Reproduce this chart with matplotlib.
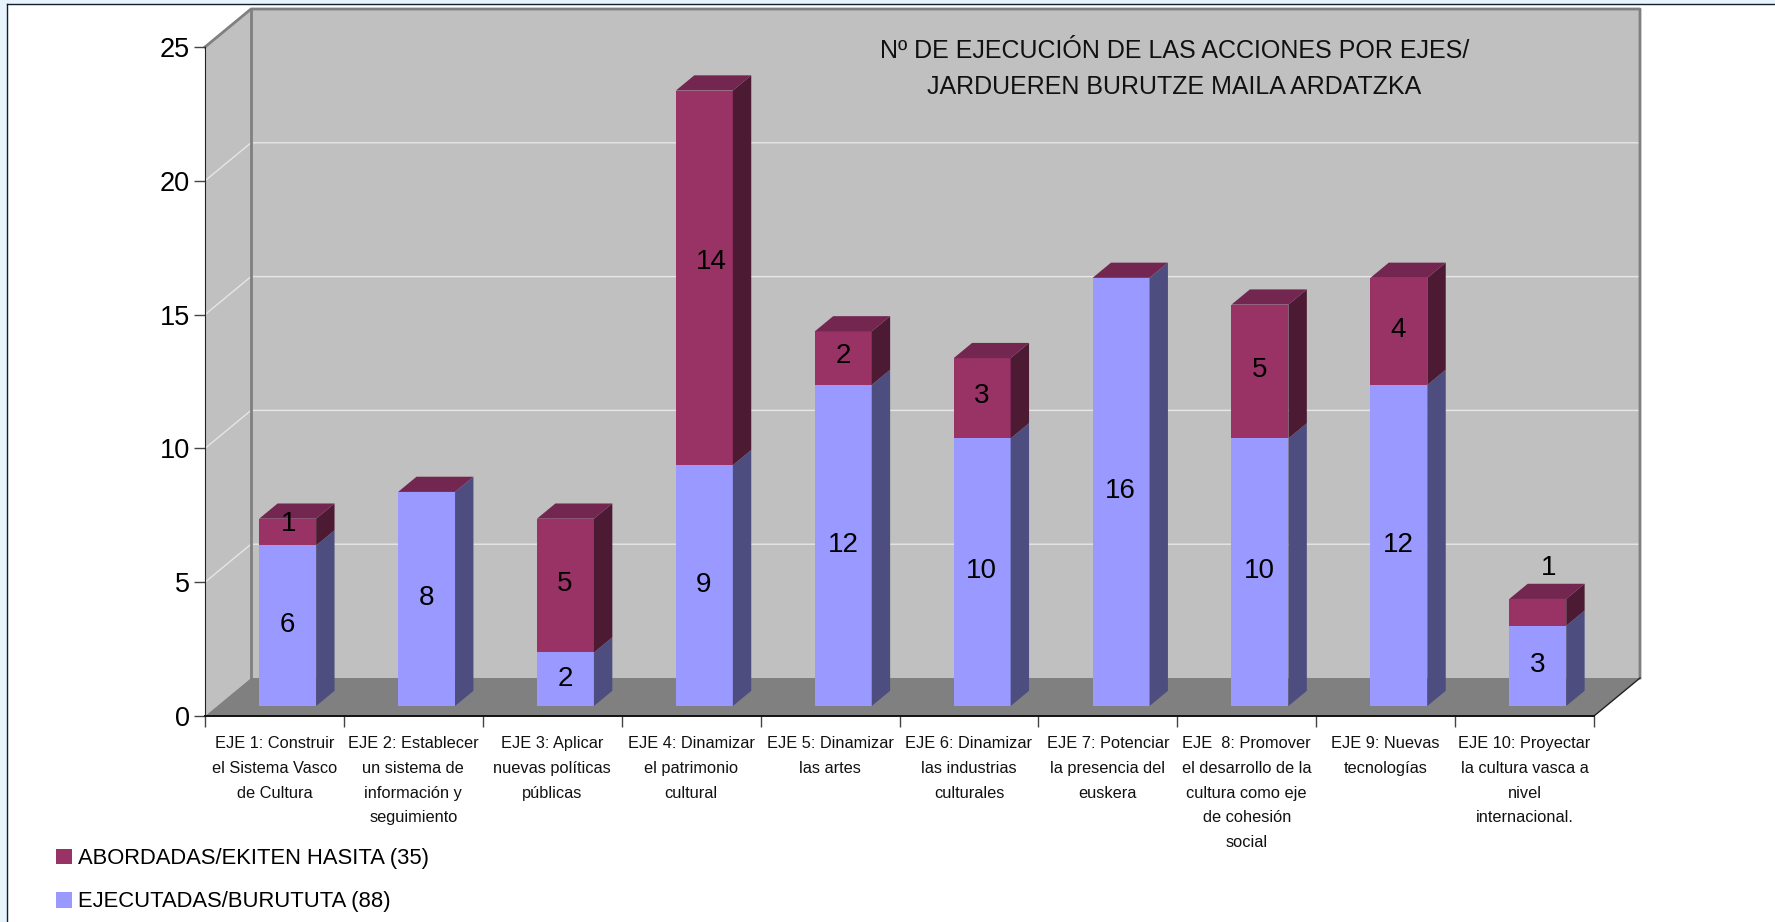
import numpy as np
import matplotlib
matplotlib.use("Agg")
import matplotlib.pyplot as plt
from matplotlib.lines import Line2D
from matplotlib.patches import Patch, Polygon, Rectangle

plt.rcParams['font.family'] = ['Liberation Sans', 'DejaVu Sans']

categories = [
    "EJE 1: Construir\nel Sistema Vasco\nde Cultura",
    "EJE 2: Establecer\nun sistema de\ninformación y\nseguimiento",
    "EJE 3: Aplicar\nnuevas políticas\npúblicas",
    "EJE 4: Dinamizar\nel patrimonio\ncultural",
    "EJE 5: Dinamizar\nlas artes",
    "EJE 6: Dinamizar\nlas industrias\nculturales",
    "EJE 7: Potenciar\nla presencia del\neuskera",
    "EJE  8: Promover\nel desarrollo de la\ncultura como eje\nde cohesión\nsocial",
    "EJE 9: Nuevas\ntecnologías",
    "EJE 10: Proyectar\nla cultura vasca a\nnivel\ninternacional.",
]
ejecutadas = [6, 8, 2, 9, 12, 10, 16, 10, 12, 3]
abordadas = [1, 0, 5, 14, 2, 3, 0, 5, 4, 1]
y_ticks = [0, 5, 10, 15, 20, 25]
title = "Nº DE EJECUCIÓN DE LAS ACCIONES POR EJES/\nJARDUEREN BURUTZE MAILA ARDATZKA"
legend_abordadas = "ABORDADAS/EKITEN HASITA (35)"
legend_ejecutadas = "EJECUTADAS/BURUTUTA (88)"

W, H = 1775, 922
# oblique 3d look: a depth of 1 moves this far in data units
DX, DY = 46 / 138.9, 38 / 26.76
BAR_W = 0.41
D0, D1 = 0.263, 0.663

BLUE, BLUE_SIDE = '#9999FF', '#4D4D80'
RED, RED_SIDE, RED_TOP = '#993366', '#4D1A33', '#732650'
WALL, FLOOR = '#C0C0C0', '#808080'


def pr(x, y, d):
    return (x + d * DX, y + d * DY)


def box(ax, x0, y0, y1, front, side):
    x1 = x0 + BAR_W
    ax.add_patch(Polygon([pr(x0, y0, D0), pr(x1, y0, D0), pr(x1, y1, D0), pr(x0, y1, D0)],
                         fc=front, ec='none', zorder=3, clip_on=False))
    ax.add_patch(Polygon([pr(x1, y0, D0), pr(x1, y0, D1), pr(x1, y1, D1), pr(x1, y1, D0)],
                         fc=side, ec='none', zorder=3, clip_on=False))


fig = plt.figure(figsize=(W / 100, H / 100), dpi=100, facecolor='white')
# the screenshot frame at top and left
fig.add_artist(Rectangle((0, 1 - 4.5 / H), 1, 4.5 / H, transform=fig.transFigure, fc='#E8F3FD', ec='none'))
fig.add_artist(Rectangle((0, 0), 6.5 / W, 1, transform=fig.transFigure, fc='#E8F3FD', ec='none'))
fig.add_artist(Line2D([6.5 / W, 1], [1 - 4.5 / H, 1 - 4.5 / H], transform=fig.transFigure, color='#10202C', lw=1))
fig.add_artist(Line2D([6.5 / W, 6.5 / W], [0, 1 - 4.5 / H], transform=fig.transFigure, color='#10202C', lw=1))

ax = fig.add_axes([205 / W, (H - 716) / H, 1389 / W, 669 / H])
ax.patch.set_visible(False)
ax.set_xlim(0, 10)
ax.set_ylim(0, 25)
n = len(categories)

# walls and floor
ax.add_patch(Polygon([pr(0, 0, 0), pr(0, 25, 0), pr(0, 25, 1), pr(0, 0, 1)], fc=WALL, ec='none', clip_on=False, zorder=1))
ax.add_patch(Polygon([pr(0, 0, 1), pr(n, 0, 1), pr(n, 25, 1), pr(0, 25, 1)], fc=WALL, ec='none', clip_on=False, zorder=1))
ax.add_patch(Polygon([pr(0, 0, 0), pr(n, 0, 0), pr(n, 0, 1), pr(0, 0, 1)], fc=FLOOR, ec='none', clip_on=False, zorder=1.2))
for v in y_ticks[1:-1]:
    xs, ys = zip(pr(0, v, 0), pr(0, v, 1), pr(n, v, 1))
    ax.plot(xs, ys, color='#E6E6E6', lw=1, clip_on=False, zorder=1.1)
xs, ys = zip(pr(0, 25, 0), pr(0, 25, 1), pr(n, 25, 1), pr(n, 0, 1))
ax.plot(xs, ys, color=FLOOR, lw=2, clip_on=False, zorder=1.3)
ax.plot([pr(0, 0, 1)[0]] * 2, [pr(0, 0, 1)[1], pr(0, 25, 1)[1]], color=FLOOR, lw=2, clip_on=False, zorder=1.3)
xs, ys = zip(pr(n, 0, 0), pr(n, 0, 1))
ax.plot(xs, ys, color='#222222', lw=1, clip_on=False, zorder=1.3)

# bars
for i in range(n):
    x0 = i + 0.5 - BAR_W / 2 + 0.008
    low, high = ejecutadas[i], ejecutadas[i] + abordadas[i]
    box(ax, x0, 0, low, BLUE, BLUE_SIDE)
    box(ax, x0, low, high, RED, RED_SIDE)
    x1 = x0 + BAR_W
    ax.add_patch(Polygon([pr(x0, high, D0), pr(x1, high, D0), pr(x1, high, D1), pr(x0, high, D1)],
                         fc=RED_TOP, ec='none', zorder=3, clip_on=False))

# data labels, a few sit off the middle of their segment
nudge = {3: (0.05, 0.54), 0: (0.01, 0.22), 9: (0.08, 1.6)}
for i in range(n):
    cx = pr(i + 0.5, 0, D0)[0] + 0.005
    low, high = ejecutadas[i], ejecutadas[i] + abordadas[i]
    ax.text(cx, low / 2 + 0.4, str(low), ha='center', va='center', fontsize=20, color='black', zorder=5)
    if abordadas[i]:
        dx, dy = nudge.get(i, (0, 0))
        ax.text(cx + dx, (low + high) / 2 + 0.44 + dy, str(abordadas[i]), ha='center', va='center',
                fontsize=20, color='black', zorder=5)

ax.spines['top'].set_visible(False)
ax.spines['right'].set_visible(False)
ax.spines['left'].set_color('#222222')
ax.spines['bottom'].set_color('#111111')
ax.spines['bottom'].set_linewidth(1.4)
ax.set_yticks(y_ticks)
ax.set_xticks(np.arange(n + 1), labels=[])
ax.set_xticks(np.arange(n) + 0.5, labels=categories, minor=True)
ax.tick_params(axis='y', labelsize=19.5, length=8, width=1, color='#444444', pad=3)
ax.tick_params(axis='x', which='major', length=8, width=1, color='#444444')
ax.tick_params(axis='x', which='minor', length=0, pad=14.7, labelsize=11.8, labelcolor='#111111')
for lab in ax.get_xticklabels(minor=True):
    lab.set_linespacing(1.8)
for lab in ax.get_yticklabels():
    lab.set_va('center_baseline')

ax.text(6.98, 24.19, title, ha='center', va='center', fontsize=18.0, linespacing=1.65, color='#111111', zorder=5)

handles = [Patch(fc=RED, ec='none', label=legend_abordadas), Patch(fc=BLUE, ec='none', label=legend_ejecutadas)]
fig.legend(handles=handles, loc='lower left', bbox_to_anchor=(49.5 / W, 3 / H), frameon=False, fontsize=15.8,
           handlelength=0.72, handleheight=0.72, handletextpad=0.26, labelspacing=1.02, borderpad=0.3, borderaxespad=0)

fig.savefig('out.png', dpi=100)
